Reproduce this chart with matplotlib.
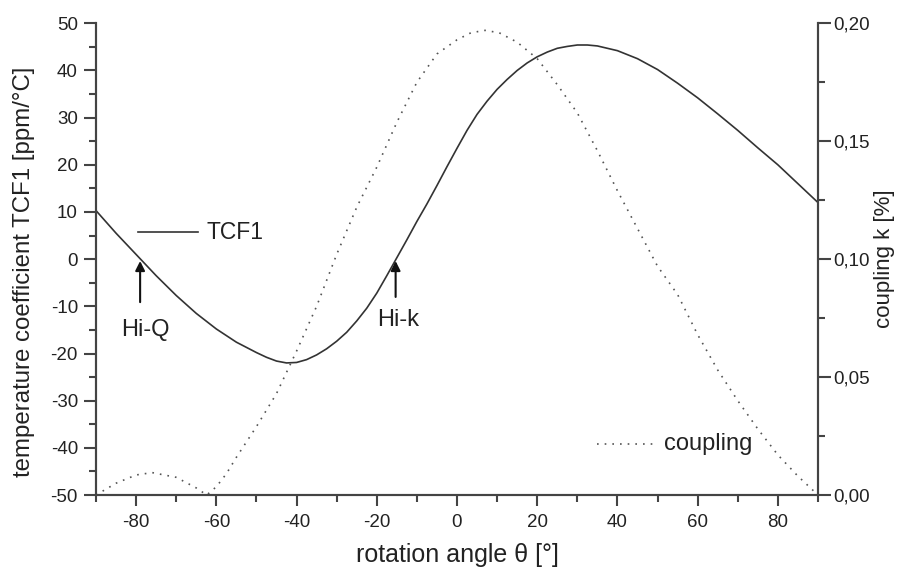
import matplotlib.pyplot as plt
from matplotlib.ticker import MultipleLocator, FuncFormatter

plt.rcParams['font.family'] = ['Liberation Sans', 'DejaVu Sans']
plt.rcParams['axes.unicode_minus'] = False

# TCF1 (left axis)
angle_tcf = [-90, -85, -80, -75, -70, -65, -60, -55, -50, -47.5, -45, -42.5, -40, -37.5,
             -35, -32.5, -30, -27.5, -25, -22.5, -20, -17.5, -15, -12.5, -10, -7.5, -5,
             -2.5, 0, 2.5, 5, 7.5, 10, 12.5, 15, 17.5, 20, 22.5, 25, 27.5, 30, 32.5, 35,
             40, 45, 50, 55, 60, 65, 70, 75, 80, 85, 90]
tcf1 = [10.3, 5.5, 1.0, -3.5, -7.7, -11.5, -14.8, -17.6, -19.8, -20.8, -21.6, -22.0,
        -21.9, -21.3, -20.3, -19.0, -17.4, -15.5, -13.1, -10.4, -7.2, -3.5, 0.3, 4.1,
        8.0, 11.7, 15.6, 19.6, 23.5, 27.3, 30.7, 33.5, 36.0, 38.1, 40.0, 41.6, 42.9,
        43.9, 44.7, 45.1, 45.4, 45.4, 45.2, 44.2, 42.5, 40.2, 37.3, 34.2, 30.8, 27.3,
        23.6, 20.0, 16.0, 12.0]

# coupling k (right axis)
angle_k = [-90, -85, -80, -76, -70, -65, -62.4, -60, -57.5, -55, -50, -45, -40, -35, -30,
           -25, -20, -15, -10, -5, 0, 3.5, 7, 10.5, 15, 20, 25, 30, 35, 40, 45, 50, 55,
           60, 65, 70, 75, 80, 85, 90]
coupling = [0.0, 0.005, 0.0085, 0.0095, 0.0075, 0.003, 0.0, 0.0035, 0.009, 0.016, 0.029,
            0.043, 0.061, 0.080, 0.102, 0.122, 0.139, 0.158, 0.175, 0.187, 0.193, 0.196,
            0.197, 0.196, 0.192, 0.185, 0.174, 0.162, 0.146, 0.129, 0.113, 0.097, 0.085,
            0.068, 0.053, 0.040, 0.028, 0.017, 0.008, 0.0]

c = '#333333'
fig = plt.figure(figsize=(8.98, 5.74), dpi=100)
ax = fig.add_axes([0.1069, 0.1376, 0.8040, 0.8218])
ax2 = ax.twinx()

ax.plot(angle_tcf, tcf1, color=c, lw=1.2)
ax2.plot(angle_k, coupling, color='#555555', lw=1.2, ls=(0, (1, 3.6)))

ax.set_xlim(-90, 90)
ax.set_ylim(-50, 50)
ax2.set_ylim(0, 0.20)

ax.xaxis.set_major_locator(MultipleLocator(20))
ax.xaxis.set_minor_locator(MultipleLocator(10))
ax.yaxis.set_major_locator(MultipleLocator(10))
ax.yaxis.set_minor_locator(MultipleLocator(5))
ax2.yaxis.set_major_locator(MultipleLocator(0.05))
ax2.yaxis.set_minor_locator(MultipleLocator(0.025))
ax2.yaxis.set_major_formatter(FuncFormatter(lambda v, p: f'{v:.2f}'.replace('.', ',')))

for a in (ax, ax2):
    a.spines['top'].set_visible(False)
    for s in a.spines.values():
        s.set_color('#444444')
        s.set_linewidth(1.5)
    a.tick_params(which='major', direction='out', length=9, width=1.5, color='#444444',
                  labelsize=13.5, labelcolor='#222222')
    a.tick_params(which='minor', direction='out', length=5, width=1.5, color='#444444')
ax.tick_params(axis='x', which='major', length=8, pad=6)
ax.tick_params(axis='y', which='major', pad=4)
ax2.tick_params(axis='y', which='major', pad=2)

ax.set_xlabel('rotation angle θ [°]', fontsize=18, color='#222222', labelpad=8)
ax.set_ylabel('temperature coefficient TCF1 [ppm/°C]', fontsize=17.3, color='#222222')
ax.yaxis.set_label_coords(-0.0845, 0.473)
ax2.set_ylabel('coupling k [%]', fontsize=16, color='#222222', labelpad=3)

# legend-like labels
ax.plot([-79.5, -64.5], [5.7, 5.7], color=c, lw=1.2)
ax.text(-62.5, 5.7, 'TCF1', fontsize=16.5, va='center', ha='left', color='#222222')
ax2.plot([34.8, 50], [0.0218, 0.0218], color='#555555', lw=1.2, ls=(0, (1, 3.6)))
ax2.text(51.5, 0.0218, 'coupling', fontsize=17, va='center', ha='left', color='#222222')

# arrows
ax.annotate('', xy=(-79, 0.2), xytext=(-79, -9.7),
            arrowprops=dict(arrowstyle='-|>', color='#111111', lw=1.5, mutation_scale=14))
ax.text(-77.8, -15, 'Hi-Q', fontsize=17, ha='center', va='center', color='#222222')
ax.annotate('', xy=(-15.3, 0.2), xytext=(-15.3, -8.6),
            arrowprops=dict(arrowstyle='-|>', color='#111111', lw=1.5, mutation_scale=14))
ax.text(-14.8, -12.9, 'Hi-k', fontsize=17, ha='center', va='center', color='#222222')

fig.savefig('out.png', dpi=100)
